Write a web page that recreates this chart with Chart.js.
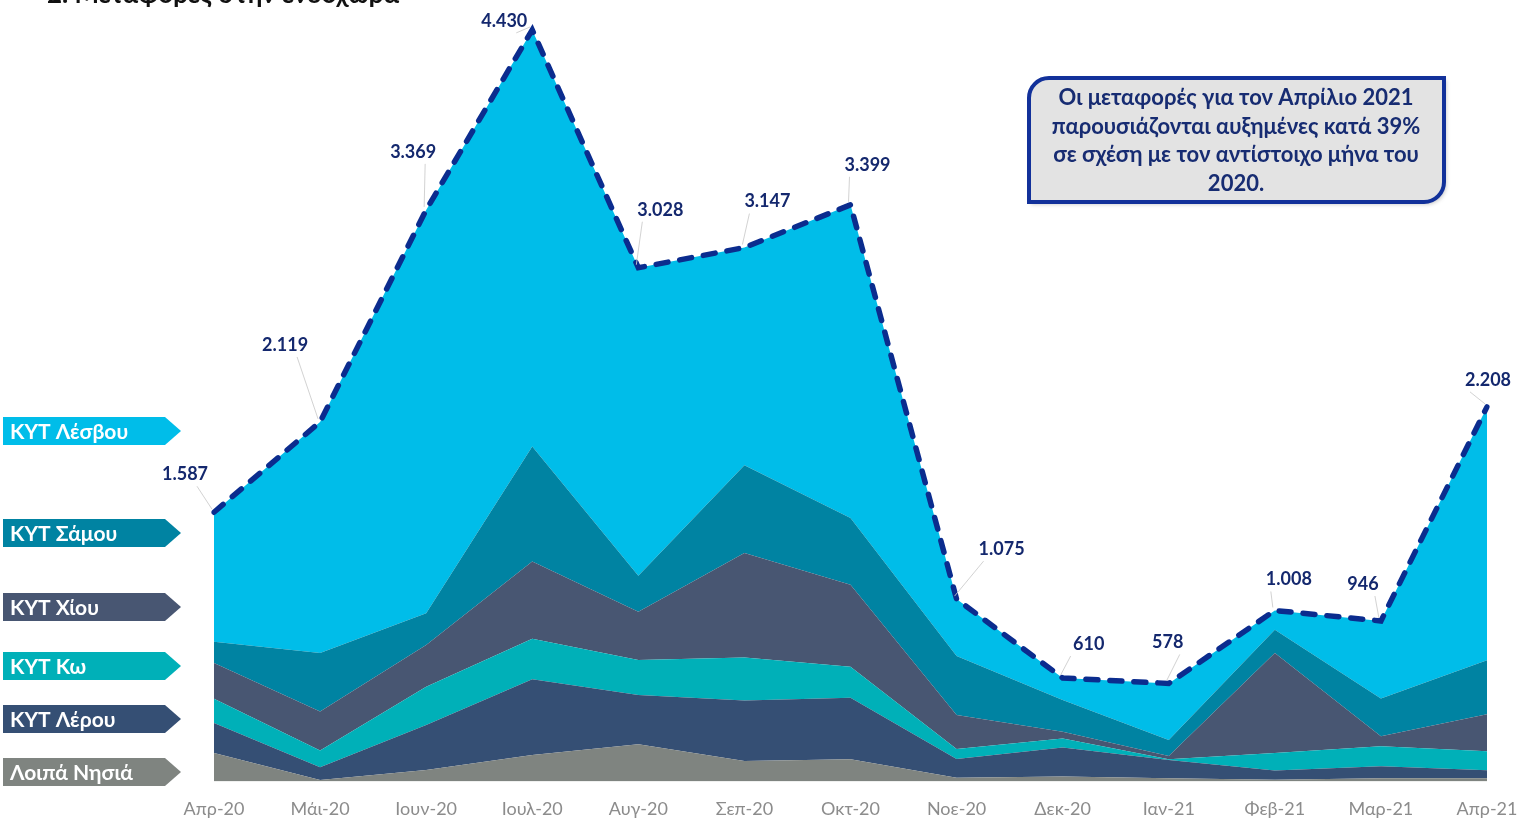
<!DOCTYPE html>
<html>
<head>
<meta charset="utf-8">
<script src="https://cdn.jsdelivr.net/npm/chart.js@4.4.1/dist/chart.umd.min.js"></script>
<style>
  html, body { margin: 0; padding: 0; background: #fff; }
  #wrap { position: relative; width: 1518px; height: 818px; }
</style>
</head>
<body>
<div id="wrap"><canvas id="myChart" width="1518" height="818"></canvas></div>
<script>
const months = ['Απρ-20', 'Μάι-20', 'Ιουν-20', 'Ιουλ-20', 'Αυγ-20', 'Σεπ-20', 'Οκτ-20',
                'Νοε-20', 'Δεκ-20', 'Ιαν-21', 'Φεβ-21', 'Μαρ-21', 'Απρ-21'];
const loipaNisia = [168, 9, 68, 156, 219, 121, 131, 22, 29, 19, 10, 19, 19];
const kytLerou = [177, 75, 265, 447, 291, 356, 363, 110, 171, 108, 55, 71, 47];
const kytKo = [142, 98, 226, 238, 206, 254, 183, 59, 53, 4, 103, 118, 112];
const kytXiou = [212, 230, 246, 456, 285, 616, 482, 201, 40, 19, 590, 59, 218];
const kytSamou = [124, 345, 187, 678, 212, 517, 394, 348, 187, 94, 137, 222, 319];
const kytLesvou = [764, 1362, 2377, 2455, 1815, 1283, 1846, 335, 130, 334, 113, 457, 1493];
const totals = [1587, 2119, 3369, 4430, 3028, 3147, 3399, 1075, 610, 578, 1008, 946, 2208];

const seriesNames = ['Λοιπά Νησιά', 'ΚΥΤ Λέρου', 'ΚΥΤ Κω', 'ΚΥΤ Χίου', 'ΚΥΤ Σάμου', 'ΚΥΤ Λέσβου'];
const title = '2. Μεταφορές στην ενδοχώρα';
const noteLines = ['Οι μεταφορές για τον Απρίλιο 2021', 'παρουσιάζονται αυξημένες κατά 39%',
                   'σε σχέση με τον αντίστοιχο μήνα του', '2020.'];

// styling
const colors = ['#7f8480', '#354f74', '#00b0b8', '#485672', '#0083a2', '#00bde9'];
const legendTops = [758, 705, 652, 593, 519, 417];
const labelOffsets = [[-29, -38], [-35, -77], [-13, -58], [-28, -9], [22, -58], [23, -46], [17, -40],
                      [45, -50], [26, -34], [-1, -41], [14, -31], [-18, -37], [1, -27]];
const fmt = v => v.toLocaleString('de-DE');

const areaSet = (label, data, i) => ({
    label: label,
    data: data,
    backgroundColor: colors[i],
    borderColor: colors[i],
    borderWidth: 0,
    pointRadius: 0,
    tension: 0,
    fill: i === 0 ? 'origin' : '-1',
    stack: 'islands'
});

const decorPlugin = {
    id: 'decor',
    afterDraw(chart) {
        const ctx = chart.ctx;
        ctx.save();

        // title, cut at the top edge
        ctx.fillStyle = '#111';
        ctx.font = 'bold 26px Lato';
        ctx.textBaseline = 'alphabetic';
        ctx.textAlign = 'left';
        ctx.fillText(title, 47, 3, 380);

        // arrow legend on the left
        ctx.font = 'bold 21px Lato';
        ctx.textBaseline = 'middle';
        seriesNames.forEach((name, i) => {
            const top = legendTops[i], h = 28, x0 = 3, x1 = 165, tip = 181;
            ctx.fillStyle = colors[i];
            ctx.beginPath();
            ctx.moveTo(x0, top);
            ctx.lineTo(x1, top);
            ctx.lineTo(tip, top + h / 2);
            ctx.lineTo(x1, top + h);
            ctx.lineTo(x0, top + h);
            ctx.closePath();
            ctx.fill();
            ctx.fillStyle = '#fff';
            ctx.fillText(name, 10, top + h / 2 + 1);
        });

        // note box
        ctx.shadowColor = 'rgba(0,0,0,0.25)';
        ctx.shadowBlur = 4;
        ctx.shadowOffsetX = 2;
        ctx.shadowOffsetY = 2;
        ctx.fillStyle = '#e3e3e3';
        ctx.strokeStyle = '#12319a';
        ctx.lineWidth = 4;
        ctx.beginPath();
        ctx.roundRect(1029, 78, 415, 124, [20, 0, 20, 0]);
        ctx.fill();
        ctx.shadowColor = 'transparent';
        ctx.stroke();
        ctx.fillStyle = '#172c72';
        ctx.font = 'bold 22px Lato';
        ctx.textAlign = 'center';
        noteLines.forEach((line, i) => ctx.fillText(line, 1236, 98 + i * 28.5));

        ctx.restore();
    }
};

const totalLabels = {
    id: 'totalLabels',
    afterDatasetsDraw(chart) {
        const ctx = chart.ctx;
        const meta = chart.getDatasetMeta(6);
        ctx.save();
        ctx.font = 'bold 18px Lato';
        ctx.textAlign = 'center';
        ctx.textBaseline = 'middle';
        meta.data.forEach((pt, i) => {
            const [dx, dy] = labelOffsets[i];
            const lx = pt.x + dx, ly = pt.y + dy;
            ctx.strokeStyle = 'rgba(205,205,205,0.9)';
            ctx.lineWidth = 1;
            ctx.beginPath();
            ctx.moveTo(pt.x - 2, pt.y - 3);
            ctx.lineTo(lx + (dx > 0 ? -18 : 12), ly + 12);
            ctx.stroke();
            ctx.fillStyle = '#14286e';
            ctx.fillText(fmt(totals[i]), lx, ly);
        });
        ctx.restore();
    }
};

const config = {
    type: 'line',
    data: {
        labels: months,
        datasets: [
            areaSet(seriesNames[0], loipaNisia, 0),
            areaSet(seriesNames[1], kytLerou, 1),
            areaSet(seriesNames[2], kytKo, 2),
            areaSet(seriesNames[3], kytXiou, 3),
            areaSet(seriesNames[4], kytSamou, 4),
            areaSet(seriesNames[5], kytLesvou, 5),
            {
                label: 'Σύνολο',
                data: totals,
                borderColor: '#0b2c8e',
                borderWidth: 5.5,
                borderDash: [12, 12],
                borderCapStyle: 'round',
                pointRadius: 0,
                fill: false,
                tension: 0,
                stack: 'total',
                order: -1
            }
        ]
    },
    options: {
        responsive: false,
        animation: false,
        layout: { padding: { left: 214, right: 31, top: 18, bottom: 0 } },
        scales: {
            x: {
                offset: false,
                grid: { display: false, drawTicks: false },
                border: { display: false },
                ticks: {
                    color: '#8c8c8c',
                    font: { family: 'Lato', size: 18 },
                    padding: 17,
                    maxRotation: 0,
                    autoSkip: false
                },
                afterFit(scale) {
                    scale.height = 36.5;
                    scale.paddingLeft = 0;
                    scale.paddingRight = 0;
                }
            },
            y: {
                display: false,
                stacked: true,
                min: 0,
                max: 4500
            }
        },
        plugins: {
            legend: { display: false },
            tooltip: { enabled: false }
        }
    },
    plugins: [totalLabels, decorPlugin]
};

function buildChart() {
    const ctx = document.getElementById('myChart').getContext('2d');
    return new Chart(ctx, config);
}

window.addEventListener('load', () => {
    document.fonts.load('bold 20px Lato').then(() => buildChart(), () => buildChart());
});
</script>
</body>
</html>
